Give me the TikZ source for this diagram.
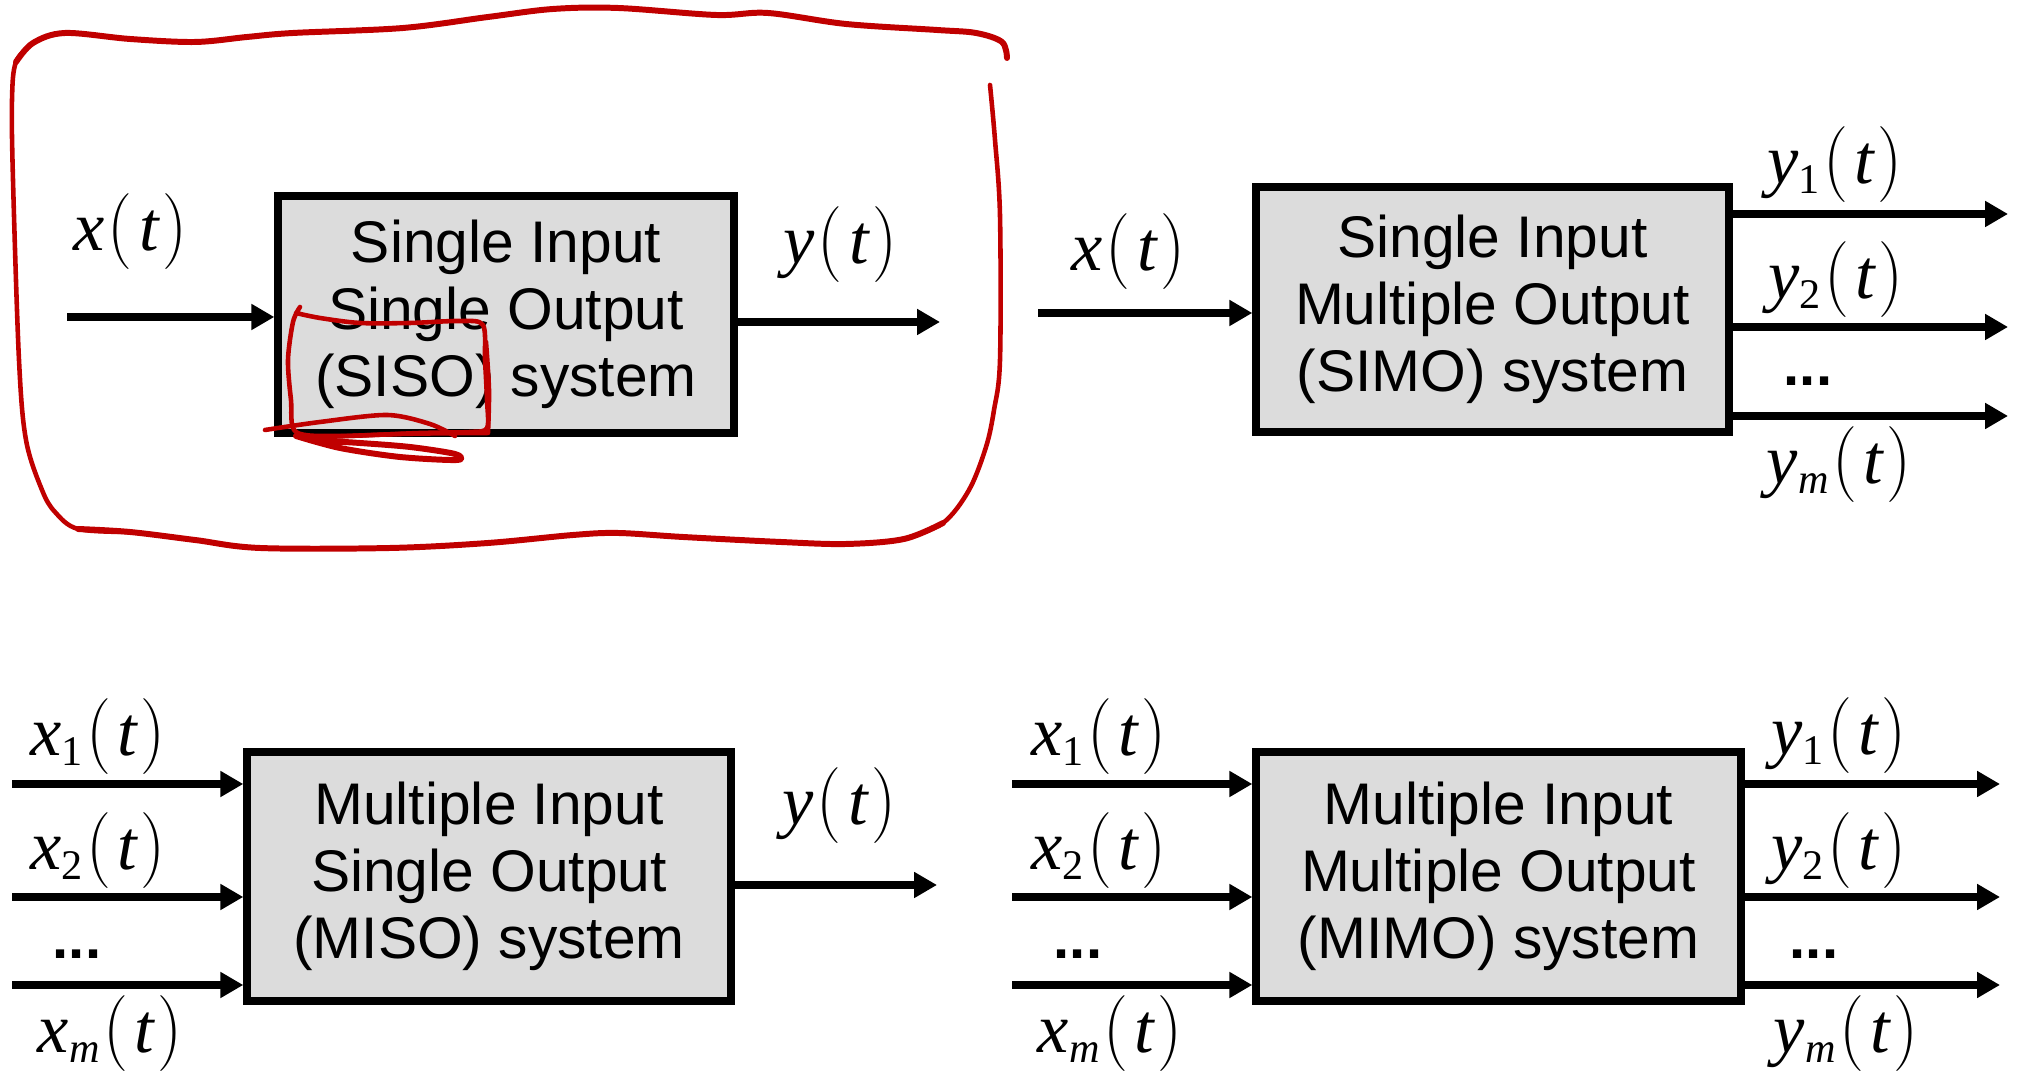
\documentclass[tikz,border=0pt]{standalone}
\usepackage{fontspec}
\usetikzlibrary{arrows.meta}
\newfontfamily\arial{Liberation Sans}
\newfontfamily\tms{Liberation Serif}
\definecolor{boxgray}{RGB}{220,220,220}
\definecolor{penred}{RGB}{192,0,0}
\newcommand\sub[1]{\raisebox{-2.8pt}{\fontsize{12pt}{12pt}\selectfont\tms #1}}
\newcommand\sig[2]{{\tms\itshape #1}#2\kern1pt\scalebox{1}[1.08]{\rmfamily(}\kern1.8pt{\tms\itshape t}\kern1pt\scalebox{1}[1.08]{\rmfamily)}}
\tikzset{
  sysbox/.style={draw=black, line width=2.3pt, fill=boxgray, align=center, inner sep=0pt,
    font=\arial\fontsize{16.7pt}{19.06pt}\selectfont},
  arr/.style={line width=2.2pt, -{Triangle[length=6.5pt,width=7pt]}},
  lbl/.style={inner sep=0pt, font=\fontsize{20pt}{20pt}\selectfont},
  dots/.style={inner sep=0pt, anchor=base, font=\arial\bfseries\fontsize{16.5pt}{19pt}\selectfont},
  redpen/.style={draw=penred, line width=1.3pt, line cap=round, line join=round},
  redtop/.style={draw=penred, line width=1.7pt, line cap=round, line join=round}
}
\begin{document}
\begin{tikzpicture}[x=0.01cm, y=-0.01cm]
\useasboundingbox (0,0) rectangle (2018,1071);

% ---------------- SISO ----------------
\node[sysbox, minimum width=4.55cm, minimum height=2.36cm] (siso) at (506,314.5)
  {Single Input\\Single Output\\(SISO) system};
\coordinate (sisoin) at (67,317);
\coordinate (sisoout) at (940,322);
\draw[arr] (sisoin) -- (sisoin -| siso.west);
\draw[arr] (siso.east |- sisoout) -- (sisoout);
\node[lbl] (sisox) at (130,232) {\sig{x}{}};
\node[lbl] (sisoy) at (840,245) {\sig{y}{}};

% ---------------- SIMO ----------------
\node[sysbox, minimum width=4.72cm, minimum height=2.44cm] (simo) at (1492.5,309.5)
  {Single Input\\Multiple Output\\(SIMO) system};
\coordinate (simoin) at (1038,313);
\coordinate (simoo1) at (2008,214);
\coordinate (simoo2) at (2008,327);
\coordinate (simoo3) at (2008,416);
\draw[arr] (simoin) -- (simoin -| simo.west);
\draw[arr] (simo.east |- simoo1) -- (simoo1);
\draw[arr] (simo.east |- simoo2) -- (simoo2);
\draw[arr] (simo.east |- simoo3) -- (simoo3);
\node[lbl] (simox) at (1128,252) {\sig{x}{}};
\node[lbl] (simoy1) at (1835,165) {\sig{y}{\sub{1}}};
\node[lbl] (simoy2) at (1836,280) {\sig{y}{\sub{2}}};
\node[dots] (simod) at (1808,386) {...};
\node[lbl] (simoym) at (1839,465) {\sig{y}{\sub{\itshape m}}};

% ---------------- MISO ----------------
\node[sysbox, minimum width=4.83cm, minimum height=2.48cm] (miso) at (489,876.5)
  {Multiple Input\\Single Output\\(MISO) system};
\coordinate (misoi1) at (12,784);
\coordinate (misoi2) at (12,897);
\coordinate (misoi3) at (12,985);
\coordinate (misoout) at (937,885);
\draw[arr] (misoi1) -- (misoi1 -| miso.west);
\draw[arr] (misoi2) -- (misoi2 -| miso.west);
\draw[arr] (misoi3) -- (misoi3 -| miso.west);
\draw[arr] (miso.east |- misoout) -- (misoout);
\node[lbl] (misox1) at (98,737) {\sig{x}{\sub{1}}};
\node[lbl] (misox2) at (98,851) {\sig{x}{\sub{2}}};
\node[dots] (misod) at (77,959) {...};
\node[lbl] (misoxm) at (110,1034) {\sig{x}{\sub{\itshape m}}};
\node[lbl] (misoy) at (839,806) {\sig{y}{}};

% ---------------- MIMO ----------------
\node[sysbox, minimum width=4.84cm, minimum height=2.48cm] (mimo) at (1498.5,876.5)
  {Multiple Input\\Multiple Output\\(MIMO) system};
\coordinate (mimoi1) at (1012,784);
\coordinate (mimoi2) at (1012,897);
\coordinate (mimoi3) at (1012,985);
\coordinate (mimoo1) at (2000,784);
\coordinate (mimoo2) at (2000,897);
\coordinate (mimoo3) at (2000,985);
\draw[arr] (mimoi1) -- (mimoi1 -| mimo.west);
\draw[arr] (mimoi2) -- (mimoi2 -| mimo.west);
\draw[arr] (mimoi3) -- (mimoi3 -| mimo.west);
\draw[arr] (mimo.east |- mimoo1) -- (mimoo1);
\draw[arr] (mimo.east |- mimoo2) -- (mimoo2);
\draw[arr] (mimo.east |- mimoo3) -- (mimoo3);
\node[lbl] (mimox1) at (1099,737) {\sig{x}{\sub{1}}};
\node[lbl] (mimox2) at (1099,851) {\sig{x}{\sub{2}}};
\node[dots] (mimodl) at (1078,959) {...};
\node[lbl] (mimoxm) at (1110,1034) {\sig{x}{\sub{\itshape m}}};
\node[lbl] (mimoy1) at (1839,736) {\sig{y}{\sub{1}}};
\node[lbl] (mimoy2) at (1839,851) {\sig{y}{\sub{2}}};
\node[dots] (mimodr) at (1814,959) {...};
\node[lbl] (mimoym) at (1846,1034) {\sig{y}{\sub{\itshape m}}};

% ---------------- red hand annotation ----------------
\draw[redtop] plot[smooth, tension=0.55] coordinates {
  (1007,58) (1002,42) (976,33) (937,30) (846,24) (768,13) (716,15) (618,8)
  (553,9) (488,17) (403,28) (293,33) (247,37) (195,42) (130,39) (65,33)
  (33,43) (16,62)};
\draw[redpen] plot[smooth, tension=0.55] coordinates {
  (33,43) (16,62) (12,100) (13,180) (19,360) (26,440) (42,490) (55,512)
  (78,529) (130,532)};
\draw[redtop] plot[smooth, tension=0.55] coordinates {
  (78,529) (130,532) (195,540) (260,548) (390,548) (488,543) (573,535)
  (618,533) (683,537) (781,542) (846,544) (904,539) (943,523)};
\draw[redpen] plot[smooth, tension=0.55] coordinates {
  (904,539) (943,523) (969,490)
  (986,447) (994,410) (1000,360) (1000,216) (995,140) (990,85)};
\draw[redpen] plot[smooth, tension=0.5] coordinates {
  (300,307) (293,322) (288,360) (291,400) (296,432) (340,436) (420,433)
  (470,432) (487,428) (487,400) (485,360) (483,325) (460,321) (410,323)
  (360,323) (320,318) (296,313)};
\draw[redpen] plot[smooth, tension=0.5] coordinates {(486,342) (489,390) (488,433)};
\draw[redpen] plot[smooth, tension=0.5] coordinates {
  (265,430) (320,422) (387,415) (430,424) (455,436)};
\draw[redpen] plot[smooth, tension=0.5] coordinates {
  (303,438) (400,434) (487,433)};
\draw[redtop] plot[smooth, tension=0.5] coordinates {
  (296,436) (340,448) (400,457) (457,460) (455,454) (410,447) (360,443) (310,440)};
\end{tikzpicture}
\end{document}
